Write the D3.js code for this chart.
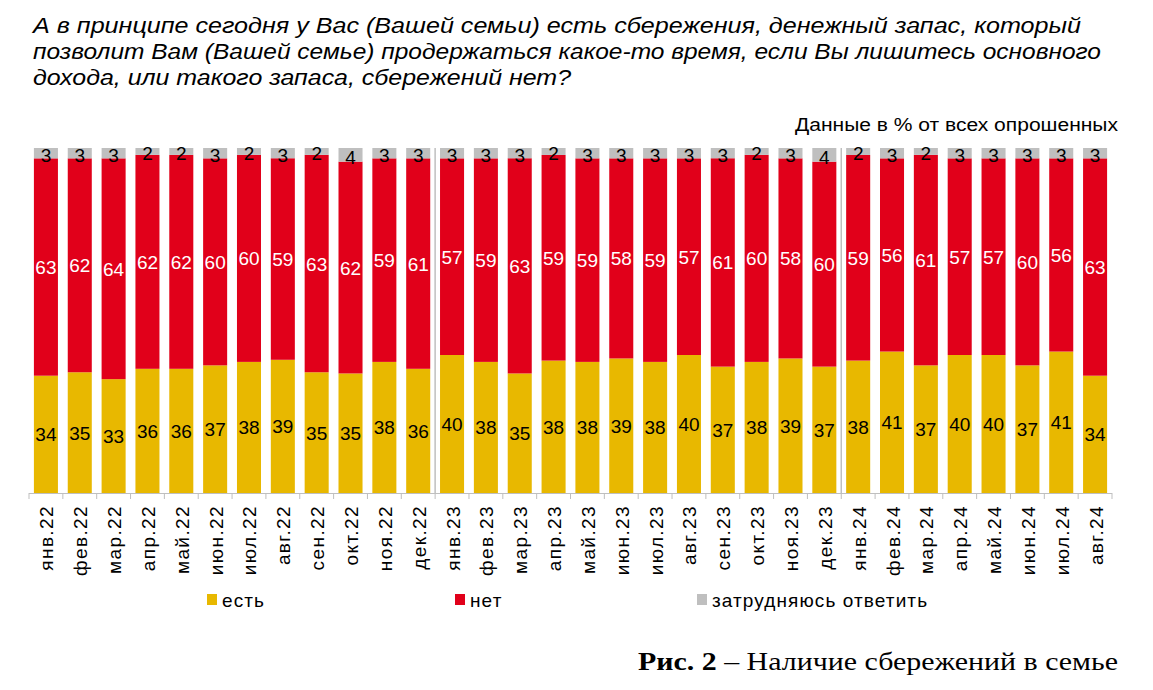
<!DOCTYPE html>
<html><head><meta charset="utf-8">
<script src="https://cdn.jsdelivr.net/npm/d3@7"></script>
<style>body{margin:0;background:#fff}</style>
</head><body>
<svg id="c" width="1153" height="690"></svg>
<script>
const months = ["янв.22","фев.22","мар.22","апр.22","май.22","июн.22","июл.22","авг.22","сен.22","окт.22","ноя.22","дек.22",
"янв.23","фев.23","мар.23","апр.23","май.23","июн.23","июл.23","авг.23","сен.23","окт.23","ноя.23","дек.23",
"янв.24","фев.24","мар.24","апр.24","май.24","июн.24","июл.24","авг.24"];
const yes = [34,35,33,36,36,37,38,39,35,35,38,36, 40,38,35,38,38,39,38,40,37,38,39,37, 38,41,37,40,40,37,41,34];
const no = [63,62,64,62,62,60,60,59,63,62,59,61, 57,59,63,59,59,58,59,57,61,60,58,60, 59,56,61,57,57,60,56,63];
const hard = [3,3,3,2,2,3,2,3,2,4,3,3, 3,3,3,2,3,3,3,3,3,2,3,4, 2,3,2,3,3,3,3,3];
const seriesNames = ["есть","нет","затрудняюсь ответить"];
const colors = ["#E8B800","#E1001A","#BFBFBF"];
const labelColors = ["#000","#fff","#000"];

const svg = d3.select("#c");
const font = "'Liberation Sans', Arial, sans-serif";

// Title
const title = ["А в принципе сегодня у Вас (Вашей семьи) есть сбережения, денежный запас, который",
"позволит Вам (Вашей семье) продержаться какое-то время, если Вы лишитесь основного",
"дохода, или такого запаса, сбережений нет?"];
const titleLen = [1048, 1068, 538];
svg.append("g").attr("font-family",font).attr("font-style","italic").attr("font-size",22.5).attr("fill","#000")
  .selectAll("text").data(title).join("text").attr("x",33).attr("y",(d,i)=>33+i*26)
  .attr("textLength",(d,i)=>titleLen[i]).attr("lengthAdjust","spacingAndGlyphs").text(d=>d);

svg.append("text").attr("x",795).attr("y",131).attr("font-family",font)
  .attr("font-size",17.5).attr("textLength",323).attr("lengthAdjust","spacingAndGlyphs")
  .text("Данные в % от всех опрошенных");

const data = months.map((m,i)=>({m, s0:yes[i], s1:no[i], s2:hard[i]}));
const stack = d3.stack().keys(["s0","s1","s2"]).offset(d3.stackOffsetExpand);
const series = stack(data);

const x = d3.scaleBand().domain(months).range([29,1112]).paddingInner(0.29).paddingOuter(0.145);
const y = d3.scaleLinear().domain([0,1]).range([493,148]);

const g = svg.append("g");
series.forEach((s,k)=>{
  g.selectAll(null).data(s).join("rect")
    .attr("x",d=>x(d.data.m)).attr("width",x.bandwidth())
    .attr("y",d=>y(d[1])).attr("height",d=>y(d[0])-y(d[1]))
    .attr("fill",colors[k]);
});
// labels
const labOff = [7,7,9];
series.forEach((s,k)=>{
  g.selectAll(null).data(s).join("text")
    .attr("x",d=>x(d.data.m)+x.bandwidth()/2)
    .attr("y",d=>(y(d[0])+y(d[1]))/2 + labOff[k])
    .attr("text-anchor","middle").attr("font-family",font).attr("font-size",19)
    .attr("fill",labelColors[k])
    .text(d=>d.data["s"+k]);
});

// year separators
const step = x.step();
[12,24].forEach(i=>{
  const xx = 29 + i*step;
  svg.append("line").attr("x1",xx).attr("x2",xx).attr("y1",148).attr("y2",493)
    .attr("stroke","#BFBFBF").attr("stroke-width",1.5);
});

// axis
svg.append("line").attr("x1",29).attr("x2",1112).attr("y1",493.5).attr("y2",493.5).attr("stroke","#BFBFBF").attr("stroke-width",1);
d3.range(months.length+1).forEach(i=>{
  const xx = 29 + i*step;
  svg.append("line").attr("x1",xx).attr("x2",xx).attr("y1",493).attr("y2",499).attr("stroke","#BFBFBF");
});
svg.append("g").selectAll("text").data(months).join("text")
  .attr("transform",d=>`translate(${x(d)+x.bandwidth()/2+7.5},505) rotate(-90)`)
  .attr("text-anchor","end").attr("font-family",font).attr("font-size",19)
  .attr("letter-spacing",1.4).text(d=>d);

// legend
const lx = [207,455,697];
seriesNames.forEach((n,k)=>{
  svg.append("rect").attr("x",lx[k]).attr("y",594).attr("width",10).attr("height",11).attr("fill",colors[k]);
  svg.append("text").attr("x",lx[k]+15).attr("y",607).attr("font-family",font).attr("font-size",19)
    .attr("letter-spacing",1.1).text(n);
});

// caption
const cap = svg.append("text").attr("x",638).attr("y",670)
  .attr("font-family","'Liberation Serif','Times New Roman',serif").attr("font-size",26)
  .attr("textLength",480).attr("lengthAdjust","spacingAndGlyphs");
cap.append("tspan").attr("font-weight","bold").text("Рис. 2");
cap.append("tspan").text(" – Наличие сбережений в семье");
</script>
</body></html>
